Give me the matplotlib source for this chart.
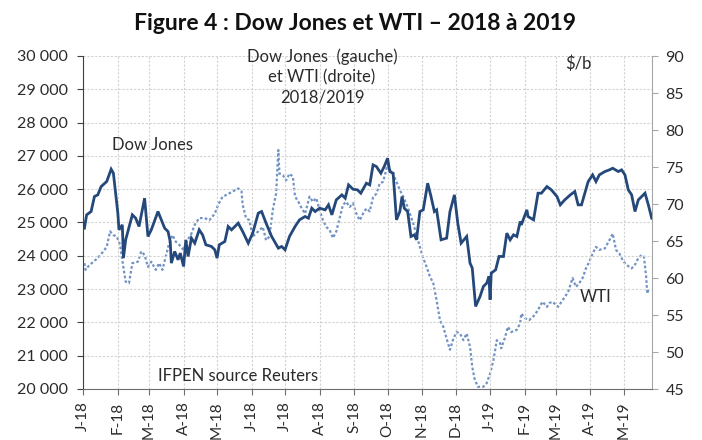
import numpy as np
import pandas as pd
import matplotlib
matplotlib.use("Agg")
import matplotlib.pyplot as plt
from matplotlib.ticker import FuncFormatter, MultipleLocator

plt.rcParams['font.family'] = ['Lato', 'DejaVu Sans']

# Dow Jones (left axis)
dj_dates = [
    "2018-01-02", "2018-01-04", "2018-01-08", "2018-01-11", "2018-01-14", "2018-01-17",
    "2018-01-22", "2018-01-26", "2018-01-28", "2018-01-29", "2018-02-01", "2018-02-02",
    "2018-02-05", "2018-02-06", "2018-02-08", "2018-02-14", "2018-02-17", "2018-02-20",
    "2018-02-25", "2018-02-28", "2018-03-03", "2018-03-09", "2018-03-12", "2018-03-15",
    "2018-03-18", "2018-03-20", "2018-03-21", "2018-03-24", "2018-03-27", "2018-03-29",
    "2018-04-01", "2018-04-03", "2018-04-05", "2018-04-08", "2018-04-11", "2018-04-15",
    "2018-04-18", "2018-04-21", "2018-04-26", "2018-04-29", "2018-05-01", "2018-05-03",
    "2018-05-08", "2018-05-11", "2018-05-14", "2018-05-20", "2018-05-24", "2018-05-29",
    "2018-06-02", "2018-06-07", "2018-06-10", "2018-06-14", "2018-06-19", "2018-06-25",
    "2018-06-28", "2018-07-01", "2018-07-05", "2018-07-10", "2018-07-14", "2018-07-19",
    "2018-07-22", "2018-07-25", "2018-07-28", "2018-08-01", "2018-08-06", "2018-08-09",
    "2018-08-12", "2018-08-16", "2018-08-21", "2018-08-24", "2018-08-27", "2018-08-31",
    "2018-09-04", "2018-09-07", "2018-09-12", "2018-09-15", "2018-09-18", "2018-09-21",
    "2018-09-25", "2018-09-28", "2018-10-01", "2018-10-03", "2018-10-06", "2018-10-09",
    "2018-10-12", "2018-10-14", "2018-10-16", "2018-10-19", "2018-10-22", "2018-10-25",
    "2018-10-27", "2018-10-30", "2018-11-02", "2018-11-06", "2018-11-09", "2018-11-12",
    "2018-11-14", "2018-11-18", "2018-11-23", "2018-11-26", "2018-11-30", "2018-12-03",
    "2018-12-06", "2018-12-11", "2018-12-14", "2018-12-16", "2018-12-19", "2018-12-23",
    "2018-12-26", "2018-12-29", "2018-12-31", "2019-01-01", "2019-01-02", "2019-01-06",
    "2019-01-09", "2019-01-13", "2019-01-16", "2019-01-19", "2019-01-22", "2019-01-25",
    "2019-01-28", "2019-01-29", "2019-02-03", "2019-02-04", "2019-02-09", "2019-02-13",
    "2019-02-16", "2019-02-21", "2019-02-25", "2019-03-02", "2019-03-05", "2019-03-09",
    "2019-03-14", "2019-03-18", "2019-03-21", "2019-03-24", "2019-03-27", "2019-03-30",
    "2019-04-03", "2019-04-06", "2019-04-09", "2019-04-14", "2019-04-18", "2019-04-21",
    "2019-04-26", "2019-04-29", "2019-05-02", "2019-05-05", "2019-05-08", "2019-05-11",
    "2019-05-14", "2019-05-17", "2019-05-20", "2019-05-23", "2019-05-26",
]
dj_values = [
    24830, 25230, 25330, 25780, 25830, 26080,
    26230, 26600, 26480, 26180, 25280, 24780,
    24930, 23930, 24480, 25230, 25130, 24880,
    25730, 24580, 24780, 25330, 25080, 24830,
    24730, 24430, 23780, 24130, 23880, 24080,
    23680, 24480, 23980, 24530, 24380, 24780,
    24630, 24330, 24280, 24180, 23930, 24330,
    24430, 24880, 24780, 24980, 24730, 24380,
    24680, 25280, 25330, 24980, 24580, 24230,
    24280, 24180, 24580, 24880, 25080, 25180,
    25130, 25430, 25330, 25430, 25380, 25530,
    25230, 25680, 25830, 25730, 26130, 26000,
    25980, 25880, 26180, 26130, 26730, 26680,
    26480, 26680, 26930, 26530, 26480, 25080,
    25330, 25780, 25430, 25330, 24580, 24630,
    24480, 25330, 25380, 26180, 25780, 25330,
    25380, 24480, 24530, 25330, 25830, 24980,
    24380, 24580, 23780, 23630, 22480, 22780,
    23080, 23180, 23380, 22680, 23480, 23580,
    23980, 23980, 24680, 24480, 24630, 24580,
    25030, 24930, 25380, 25180, 25080, 25880,
    25880, 26080, 25980, 25780, 25530, 25680,
    25830, 25930, 25530, 25530, 25880, 26230,
    26430, 26230, 26430, 26530, 26580, 26630,
    26530, 26580, 26430, 25980, 25830, 25330,
    25680, 25780, 25880, 25530, 25130,
]

# WTI in $/b (right axis)
wti_dates = [
    "2018-01-02", "2018-01-03", "2018-01-05", "2018-01-10", "2018-01-14", "2018-01-19",
    "2018-01-22", "2018-01-25", "2018-01-28", "2018-01-31", "2018-02-03", "2018-02-05",
    "2018-02-08", "2018-02-11", "2018-02-14", "2018-02-19", "2018-02-22", "2018-02-25",
    "2018-02-28", "2018-03-03", "2018-03-07", "2018-03-10", "2018-03-13", "2018-03-16",
    "2018-03-19", "2018-03-22", "2018-03-25", "2018-03-28", "2018-04-01", "2018-04-03",
    "2018-04-08", "2018-04-11", "2018-04-15", "2018-04-20", "2018-04-24", "2018-04-29",
    "2018-05-02", "2018-05-06", "2018-05-09", "2018-05-15", "2018-05-20", "2018-05-23",
    "2018-05-24", "2018-05-27", "2018-05-30", "2018-06-02", "2018-06-07", "2018-06-11",
    "2018-06-14", "2018-06-17", "2018-06-20", "2018-06-23", "2018-06-25", "2018-06-26",
    "2018-06-29", "2018-07-02", "2018-07-05", "2018-07-08", "2018-07-10", "2018-07-13",
    "2018-07-16", "2018-07-19", "2018-07-23", "2018-07-26", "2018-07-29", "2018-08-01",
    "2018-08-04", "2018-08-07", "2018-08-10", "2018-08-13", "2018-08-16", "2018-08-19",
    "2018-08-22", "2018-08-25", "2018-08-28", "2018-08-31", "2018-09-03", "2018-09-06",
    "2018-09-09", "2018-09-12", "2018-09-15", "2018-09-18", "2018-09-21", "2018-09-24",
    "2018-09-27", "2018-10-01", "2018-10-04", "2018-10-07", "2018-10-12", "2018-10-15",
    "2018-10-19", "2018-10-24", "2018-10-27", "2018-10-30", "2018-11-02", "2018-11-05",
    "2018-11-08", "2018-11-11", "2018-11-14", "2018-11-17", "2018-11-20", "2018-11-23",
    "2018-11-26", "2018-11-29", "2018-12-02", "2018-12-05", "2018-12-08", "2018-12-11",
    "2018-12-14", "2018-12-16", "2018-12-18", "2018-12-21", "2018-12-26", "2018-12-29",
    "2019-01-01", "2019-01-04", "2019-01-07", "2019-01-10", "2019-01-11", "2019-01-14",
    "2019-01-17", "2019-01-20", "2019-01-25", "2019-01-28", "2019-01-29", "2019-02-01",
    "2019-02-05", "2019-02-10", "2019-02-13", "2019-02-17", "2019-02-21", "2019-02-23",
    "2019-02-26", "2019-03-03", "2019-03-07", "2019-03-12", "2019-03-16", "2019-03-19",
    "2019-03-22", "2019-03-25", "2019-03-28", "2019-03-31", "2019-04-03", "2019-04-06",
    "2019-04-09", "2019-04-14", "2019-04-18", "2019-04-21", "2019-04-24", "2019-04-27",
    "2019-04-30", "2019-05-03", "2019-05-08", "2019-05-11", "2019-05-14", "2019-05-17",
    "2019-05-19", "2019-05-21", "2019-05-22", "2019-05-23",
]
wti_values = [
    62.0, 61.1, 61.5, 62.2, 62.7, 63.6,
    64.2, 66.3, 65.8, 65.6, 64.5, 62.4,
    59.5, 59.3, 62.0, 62.2, 63.6, 63.1,
    61.5, 62.2, 61.1, 62.0, 61.1, 62.9,
    64.7, 65.8, 64.9, 64.5, 63.8, 64.7,
    66.0, 67.2, 68.1, 68.1, 67.8, 68.7,
    69.9, 71.0, 71.2, 71.7, 72.1, 71.7,
    69.9, 68.1, 67.8, 65.6, 66.3, 66.9,
    65.1, 65.6, 69.2, 71.4, 77.3, 74.1,
    73.9, 73.2, 74.1, 73.7, 71.0, 70.3,
    69.4, 68.7, 71.0, 70.3, 70.8, 69.2,
    67.8, 66.9, 66.5, 65.4, 66.3, 68.1,
    69.9, 70.3, 69.6, 70.1, 68.7, 67.8,
    68.7, 69.4, 69.0, 70.9, 71.4, 72.8,
    73.0, 75.3, 74.4, 73.7, 71.9, 71.0,
    69.6, 67.4, 65.8, 64.2, 62.7, 61.5,
    60.2, 59.3, 57.0, 54.3, 53.4, 51.8,
    50.3, 51.8, 52.7, 52.5, 51.6, 52.5,
    50.7, 48.0, 46.4, 45.3, 45.3, 45.8,
    47.1, 48.9, 51.6, 51.2, 50.5, 51.8,
    53.4, 52.7, 53.0, 53.9, 55.2, 54.6,
    54.3, 55.0, 55.7, 56.8, 56.1, 56.6,
    56.8, 56.1, 57.0, 58.1, 60.0, 58.8,
    59.3, 60.0, 61.3, 62.2, 63.3, 64.2,
    63.8, 64.0, 65.1, 66.0, 63.8, 63.3,
    62.4, 61.8, 61.3, 61.8, 62.7, 63.1,
    62.9, 60.2, 57.9, 58.4,
]

month_labels = ["J-18", "F-18", "M-18", "A-18", "M-18", "J-18", "J-18", "A-18", "S-18",
                "O-18", "N-18", "D-18", "J-19", "F-19", "M-19", "A-19", "M-19"]

dj_x = pd.to_datetime(dj_dates)
wti_x = pd.to_datetime(wti_dates)
month_ticks = pd.date_range("2018-01-01", periods=len(month_labels), freq="MS")

DJ_COLOR = "#24487a"
WTI_COLOR = "#7293c4"
GRID_COLOR = "#d2d2d2"
TEXT_COLOR = "#2b2b2b"

fig = plt.figure(figsize=(7.02, 4.40), dpi=100)
ax = fig.add_axes([83.3 / 702, 1 - 389 / 440, (651.7 - 83.3) / 702, 333 / 440])
ax2 = ax.twinx()

# Dow Jones drawn above the WTI line
ax.set_zorder(ax2.get_zorder() + 1)
ax.patch.set_visible(False)

ax.plot(dj_x, dj_values, color=DJ_COLOR, linewidth=2.0, solid_joinstyle="miter")
ax2.plot(wti_x, wti_values, color=WTI_COLOR, linewidth=1.6, linestyle=(0, (1.2, 1.0)))

ax.set_xlim(pd.Timestamp("2018-01-01"), pd.Timestamp("2019-05-26"))
ax.set_ylim(20000, 30000)
ax2.set_ylim(45, 90)

ax.yaxis.set_major_locator(MultipleLocator(1000))
ax.yaxis.set_major_formatter(FuncFormatter(lambda v, p: f"{v:,.0f}".replace(",", " ")))
ax2.yaxis.set_major_locator(MultipleLocator(5))

ax.set_xticks(month_ticks)
ax.set_xticklabels(month_labels, rotation=90)

ax.grid(True, color=GRID_COLOR, linestyle=(0, (2, 1.5)), linewidth=0.8)
ax.set_axisbelow(True)

for a in (ax, ax2):
    a.spines["top"].set_visible(False)
ax.spines["right"].set_visible(False)
ax.spines["left"].set_color("#404040")
ax.spines["bottom"].set_color("#6e6e6e")
ax2.spines["left"].set_visible(False)
ax2.spines["bottom"].set_visible(False)
ax2.spines["right"].set_color("#a6a6a6")

ax.tick_params(axis="y", colors="#404040", labelcolor=TEXT_COLOR, labelsize=11.5,
               length=4, pad=7)
ax.tick_params(axis="x", colors="#6e6e6e", labelcolor=TEXT_COLOR, labelsize=11,
               length=4, pad=5)
ax2.tick_params(axis="y", colors="#a6a6a6", labelcolor=TEXT_COLOR, labelsize=11.5,
                length=4, pad=6)

fig.text(0.505, 1 - 30 / 440, "Figure 4 : Dow Jones et WTI \u2013 2018 \u00e0 2019",
         ha="center", va="baseline", fontsize=16.5, fontweight="bold", color="#111111")

ax.text(322 / 702, 1 - 77 / 440, "Dow Jones  (gauche)\net WTI (droite)\n2018/2019",
        transform=fig.transFigure, ha="center", va="center", fontsize=12,
        color=TEXT_COLOR, linespacing=1.35)
ax.text(578 / 702, 1 - 64 / 440, "$/b", transform=fig.transFigure, ha="center",
        va="center", fontsize=12, color=TEXT_COLOR)
ax.text(153 / 702, 1 - 145 / 440, "Dow Jones", transform=fig.transFigure, ha="center",
        va="center", fontsize=12, color=TEXT_COLOR)
ax.text(596 / 702, 1 - 297 / 440, "WTI", transform=fig.transFigure, ha="center",
        va="center", fontsize=12, color=TEXT_COLOR)
ax.text(238 / 702, 1 - 376 / 440, "IFPEN source Reuters", transform=fig.transFigure,
        ha="center", va="center", fontsize=12, color=TEXT_COLOR)

fig.savefig("out.png", dpi=100)
